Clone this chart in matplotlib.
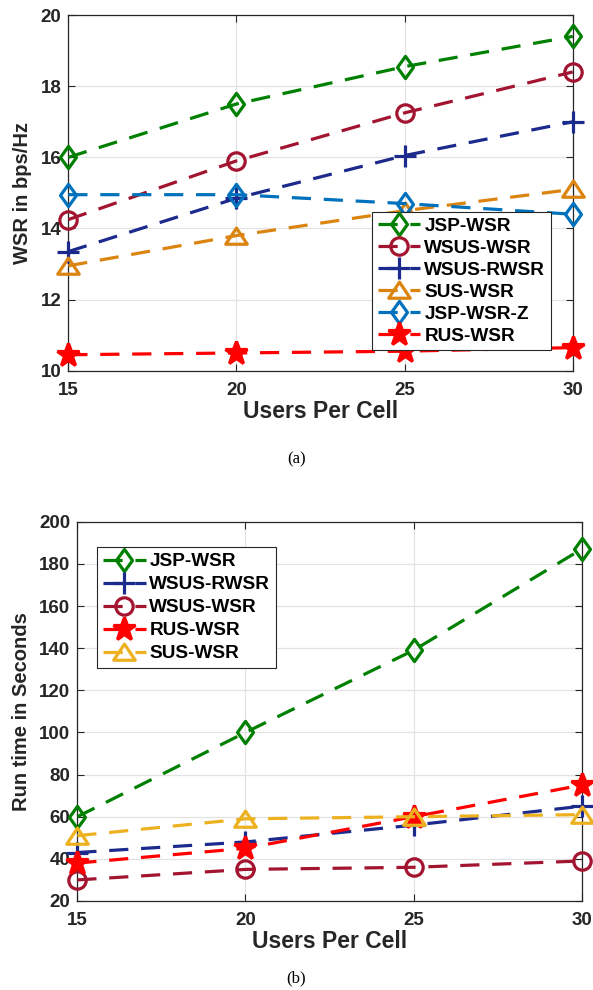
import matplotlib
matplotlib.use("Agg")
import matplotlib.pyplot as plt
from matplotlib.path import Path

plt.rcParams['font.family'] = ['Liberation Sans', 'DejaVu Sans']
plt.rcParams['font.weight'] = 'bold'

users = [15, 20, 25, 30]

# (a) WSR
wsr_labels = ["JSP-WSR", "WSUS-WSR", "WSUS-RWSR", "SUS-WSR", "JSP-WSR-Z", "RUS-WSR"]
wsr_jsp = [16.0, 17.5, 18.55, 19.4]
wsr_wsus = [14.25, 15.9, 17.25, 18.4]
wsr_wsus_r = [13.35, 14.85, 16.05, 17.0]
wsr_sus = [12.95, 13.8, 14.5, 15.1]
wsr_jsp_z = [14.95, 14.95, 14.7, 14.4]
wsr_rus = [10.45, 10.5, 10.55, 10.65]

# (b) Run time
rt_labels = ["JSP-WSR", "WSUS-RWSR", "WSUS-WSR", "RUS-WSR", "SUS-WSR"]
rt_jsp = [60, 100, 139, 187]
rt_wsus_r = [43, 48, 56, 65]
rt_wsus = [30, 35, 36, 39]
rt_rus = [38, 45, 60, 75]
rt_sus = [51, 59, 60, 61]

GREEN = '#008000'
DRED = '#A2142F'
NAVY = '#1B2A8C'
ORANGE = '#DB8410'
BLUE = '#0072BD'
RED = '#FF0000'
YELLOW = '#EDB120'

diamond = Path([(0, 1), (0.72, 0), (0, -1), (-0.72, 0), (0, 1)],
               [Path.MOVETO, Path.LINETO, Path.LINETO, Path.LINETO, Path.CLOSEPOLY])
triangle = Path([(0, 0.78), (1, -0.72), (-1, -0.72), (0, 0.78)],
                [Path.MOVETO, Path.LINETO, Path.LINETO, Path.CLOSEPOLY])

styles = {
    'D': dict(marker=diamond, ms=16),
    'o': dict(marker='o', ms=12.5),
    '+': dict(marker='+', ms=15.5),
    '^': dict(marker=triangle, ms=15.5),
    '*': dict(marker='*', ms=17),
}

fig = plt.figure(figsize=(5.93, 9.9), dpi=100)
ax1 = fig.add_axes([0.1152, 0.6255, 0.8506, 0.3593])
ax2 = fig.add_axes([0.1304, 0.0899, 0.8506, 0.3831])

def draw(ax, y, color, mk, label):
    st = styles[mk]
    face = color if mk == '*' else 'none'
    ax.plot(users, y, linestyle=(0, (6.0, 4.0)), color=color, lw=2.3,
            marker=st['marker'], ms=st['ms'], mew=2.3, mfc=face, mec=color,
            label=label, clip_on=False, zorder=3)

draw(ax1, wsr_jsp, GREEN, 'D', wsr_labels[0])
draw(ax1, wsr_wsus, DRED, 'o', wsr_labels[1])
draw(ax1, wsr_wsus_r, NAVY, '+', wsr_labels[2])
draw(ax1, wsr_sus, ORANGE, '^', wsr_labels[3])
draw(ax1, wsr_jsp_z, BLUE, 'D', wsr_labels[4])
draw(ax1, wsr_rus, RED, '*', wsr_labels[5])

draw(ax2, rt_jsp, GREEN, 'D', rt_labels[0])
draw(ax2, rt_wsus_r, NAVY, '+', rt_labels[1])
draw(ax2, rt_wsus, DRED, 'o', rt_labels[2])
draw(ax2, rt_rus, RED, '*', rt_labels[3])
draw(ax2, rt_sus, YELLOW, '^', rt_labels[4])

def style(ax, ylim, yticks, ylabel):
    ax.set_xlim(15, 30)
    ax.set_ylim(*ylim)
    ax.set_xticks(users)
    ax.set_yticks(yticks)
    ax.grid(True, color='#e3e3e3', lw=0.9)
    ax.set_axisbelow(True)
    for s in ax.spines.values():
        s.set_color('#262626')
        s.set_linewidth(0.9)
    ax.tick_params(direction='in', length=5, width=0.8, top=True, right=True,
                   labelsize=13.5, colors='#262626')
    ax.tick_params(axis='x', pad=8)
    ax.tick_params(axis='y', pad=5)
    for t in ax.get_xticklabels() + ax.get_yticklabels():
        t.set_fontweight('bold')
    ax.set_xlabel('Users Per Cell', fontsize=16.5, fontweight='bold', color='#262626', labelpad=1)
    ax.set_ylabel(ylabel, fontsize=14.5, fontweight='bold', color='#262626', labelpad=6)

style(ax1, (10, 20), [10, 12, 14, 16, 18, 20], 'WSR in bps/Hz')
style(ax2, (20, 200), list(range(20, 201, 20)), 'Run time in Seconds')

legkw = dict(loc='upper left', handlelength=2.25, handletextpad=0.2,
             borderpad=0.3, borderaxespad=0, fancybox=False, framealpha=1,
             edgecolor='#262626', prop=dict(weight='bold', size=13.7))
leg1 = ax1.legend(bbox_to_anchor=(0.602, 0.446), labelspacing=0.24, **legkw)
leg1.get_frame().set_linewidth(0.8)
leg2 = ax2.legend(bbox_to_anchor=(0.039, 0.933), labelspacing=0.3, **legkw)
leg2.get_frame().set_linewidth(0.8)

fig.text(0.5, 1 - 459 / 990, '(a)', ha='center', va='center', fontsize=12,
         family='Liberation Serif', fontweight='normal')
fig.text(0.5, 1 - 978 / 990, '(b)', ha='center', va='center', fontsize=12,
         family='Liberation Serif', fontweight='normal')

fig.savefig('out.png', dpi=100)
